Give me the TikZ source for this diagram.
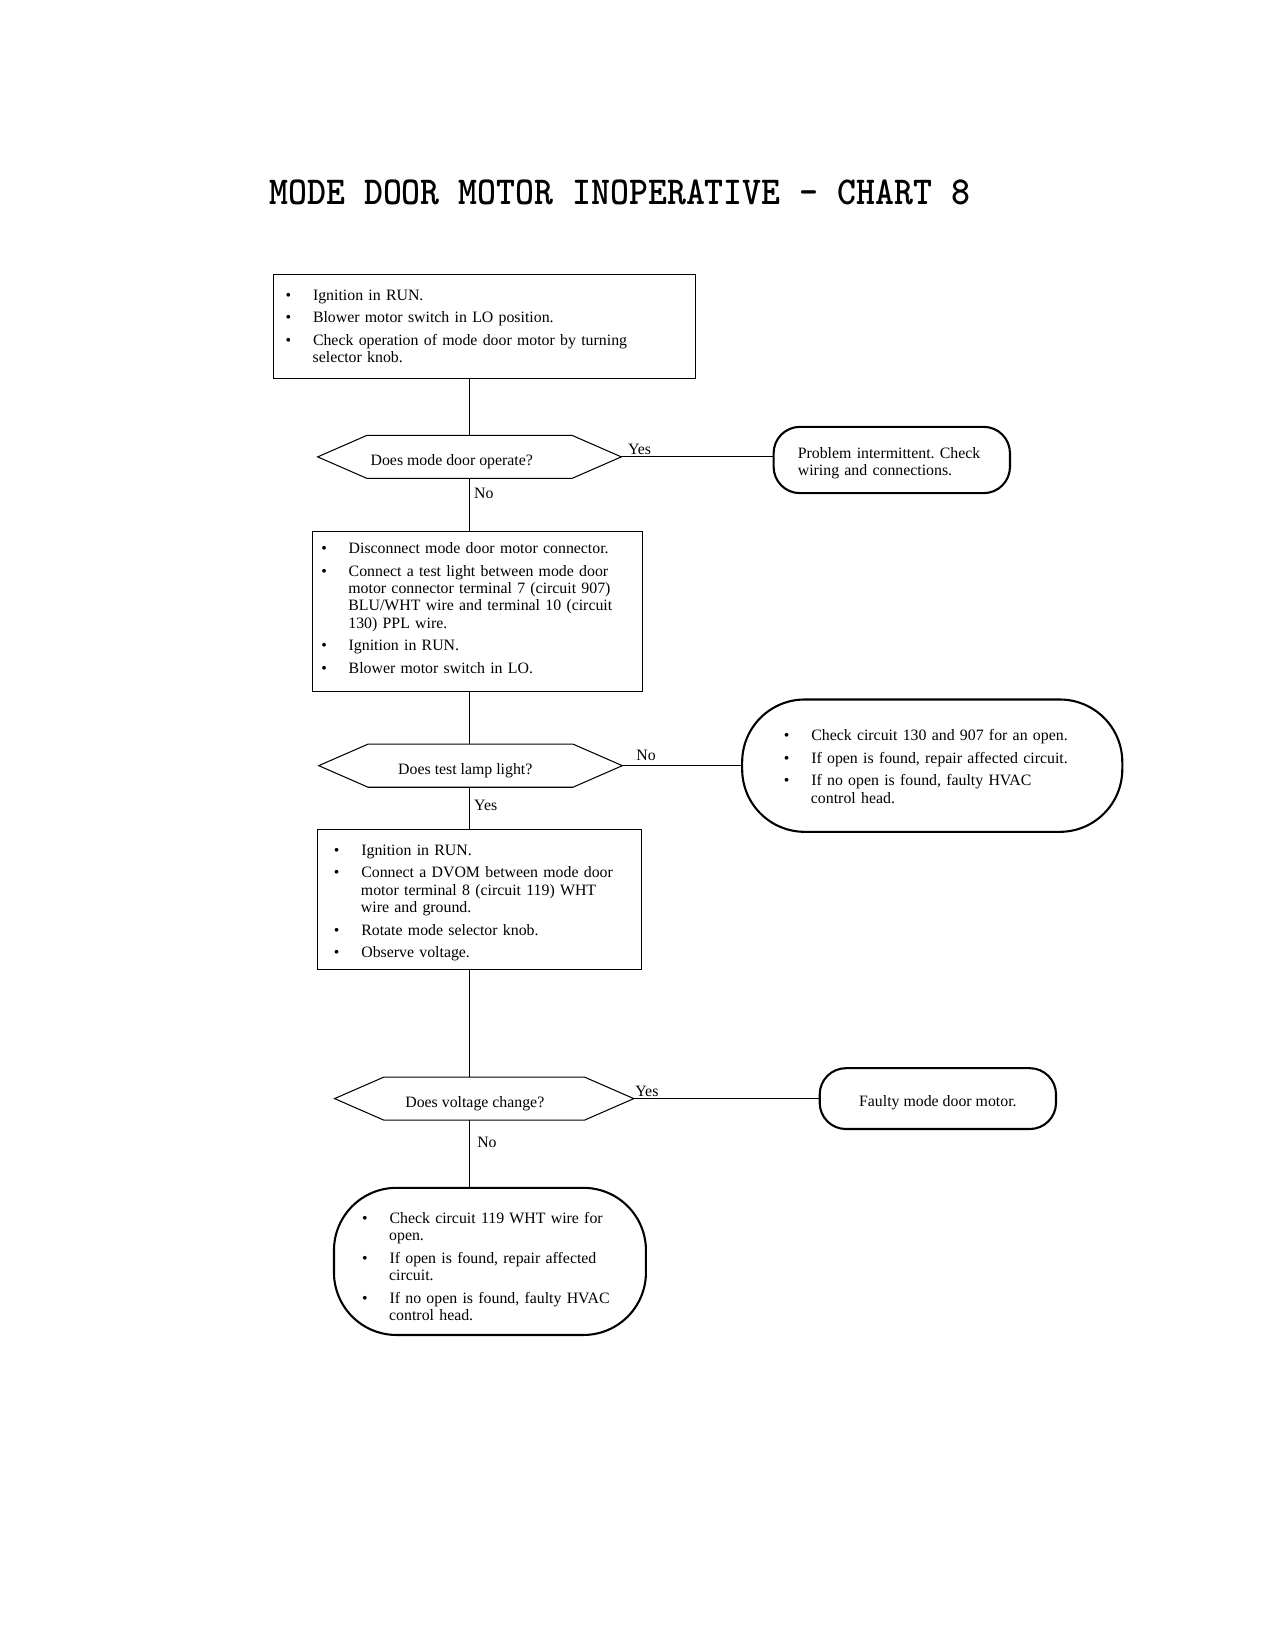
\documentclass[tikz,border=0pt]{standalone}
\usepackage{fontspec}
\usepackage{graphicx}
\setmainfont{Liberation Serif}
\usetikzlibrary{positioning}

\newenvironment{checklist}[1][0bp]{\def\listpad{#1}\raggedright\frenchspacing
  \begin{list}{\textbullet}{\setlength{\leftmargin}{13bp}\setlength{\labelwidth}{2.5bp}%
    \setlength{\labelsep}{10.5bp}\setlength{\itemsep}{2.5bp}\setlength{\parsep}{0pt}%
    \setlength{\topsep}{0pt}\setlength{\partopsep}{0pt}}}%
  {\end{list}\par\kern\listpad}

\newcommand{\hexa}[1]{%
  \draw[line width=0.5bp] (#1.west) -- ([xshift=23.7bp]#1.north west) -- ([xshift=-23.7bp]#1.north east)
    -- (#1.east) -- ([xshift=-23.7bp]#1.south east) -- ([xshift=23.7bp]#1.south west) -- cycle;}

\begin{document}
\begin{tikzpicture}[x=0.504bp,y=-0.504bp,line width=0.5bp,
    every node/.style={font=\fontsize{7.6bp}{8.3bp}\selectfont\frenchspacing},
    stepbox/.style={draw,line width=0.5bp,inner ysep=0pt},
    endbox/.style={draw,line width=1bp,rounded corners=#1,inner ysep=0pt},
    decision/.style={minimum width=145.2bp,minimum height=20.2bp,inner sep=0pt,
      text height=8.2bp,text depth=0pt},
    answer/.style={inner sep=0pt}]
    \useasboundingbox (0,0) rectangle (1214,1571);
    \node[anchor=base west,inner sep=0pt,font=\ttfamily\bfseries\fontsize{19bp}{22bp}\selectfont] (title)
      at (256,195) {\scalebox{0.911}[1]{MODE DOOR MOTOR INOPERATIVE - CHART 8}};

    \node[stepbox,text width=190.6bp,inner xsep=6bp,minimum height=49.9bp] (ign) at (461,310.5)
      {\begin{checklist}[3bp]
        \item Ignition in RUN.
        \item Blower motor switch in LO position.
        \item Check operation of mode door motor by turning\newline selector knob.
      \end{checklist}};
    \node[decision] (q1) at (447,435) {\hspace*{-17bp}Does mode door operate?};
    \node[endbox=12.6bp,text width=90.2bp,inner xsep=11.6bp,minimum height=31.8bp]
      (ok1) [right=72.6bp of q1,yshift=-1.5bp]
      {\raggedright\rule{0pt}{8.2bp}Problem intermittent. Check\newline wiring and connections.};
    \node[stepbox,text width=150.3bp,inner xsep=4bp,minimum height=76.6bp] (conn) at (455,582)
      {\begin{checklist}[6bp]
        \item Disconnect mode door motor connector.
        \item Connect a test light between mode door\newline motor connector terminal 7 (circuit 907)\newline
          BLU/WHT wire and terminal 10 (circuit\newline 130) PPL wire.
        \item Ignition in RUN.
        \item Blower motor switch in LO.
      \end{checklist}};
    \node[decision] (q2) at (448,729) {\hspace*{-5bp}Does test lamp light?};
    \node[endbox=30bp,text width=142.4bp,inner xsep=20bp,minimum height=63.5bp]
      (fail2) [right=57bp of q2]
      {\begin{checklist}[2bp]
        \item Check circuit 130 and 907 for an open.
        \item If open is found, repair affected circuit.
        \item If no open is found, faulty HVAC\newline control head.
      \end{checklist}};
    \node[stepbox,text width=139.7bp,inner xsep=8bp,minimum height=67bp] (dvom) at (456.5,856.5)
      {\begin{checklist}
        \item Ignition in RUN.
        \item Connect a DVOM between mode door\newline motor terminal 8 (circuit 119) WHT\newline
          wire and ground.
        \item Rotate mode selector knob.
        \item Observe voltage.
      \end{checklist}};
    \node[decision,minimum width=143.1bp] (q3) at (461,1046) {\hspace*{-9bp}Does voltage change?};
    \node[endbox=12.6bp,minimum width=113.4bp,minimum height=29.2bp,text height=7.6bp,text depth=0pt]
      (motor) [right=88.7bp of q3] {Faulty mode door motor.};
    \node[endbox=30bp,text width=122.7bp,inner xsep=13.5bp,minimum height=70.6bp] (fail3) at (466.5,1201)
      {\vspace*{2bp}\begin{checklist}
        \item Check circuit 119 WHT wire for\newline open.
        \item If open is found, repair affected\newline circuit.
        \item If no open is found, faulty HVAC\newline control head.
      \end{checklist}};

    \hexa{q1} \hexa{q2} \hexa{q3}

    \draw (ign.south -| q1) -- (q1.north);
    \draw (q1.east) -- (q1.east -| ok1.west)
      node[answer,pos=0,anchor=south west,xshift=3bp,yshift=0.8bp] {Yes};
    \draw (q1.south) -- (conn.north -| q1)
      node[answer,pos=0,anchor=north west,xshift=2bp,yshift=-4.5bp] {No};
    \draw (conn.south -| q1) -- (q2.north -| q1);
    \draw (q2.east) -- (fail2.west)
      node[answer,pos=0,anchor=south west,xshift=6.5bp,yshift=2bp] {No};
    \draw (q2.south -| q1) -- (dvom.north -| q1)
      node[answer,pos=0,anchor=north west,xshift=2bp,yshift=-6bp] {Yes};
    \draw (dvom.south -| q1) -- (q3.north -| q1);
    \draw (q3.east) -- (motor.west)
      node[answer,pos=0,anchor=south west,xshift=0.5bp,yshift=0.5bp] {Yes};
    \draw (q3.south -| q1) -- (fail3.north -| q1)
      node[answer,pos=0,anchor=north west,xshift=3.5bp,yshift=-8bp] {No};
\end{tikzpicture}
\end{document}
